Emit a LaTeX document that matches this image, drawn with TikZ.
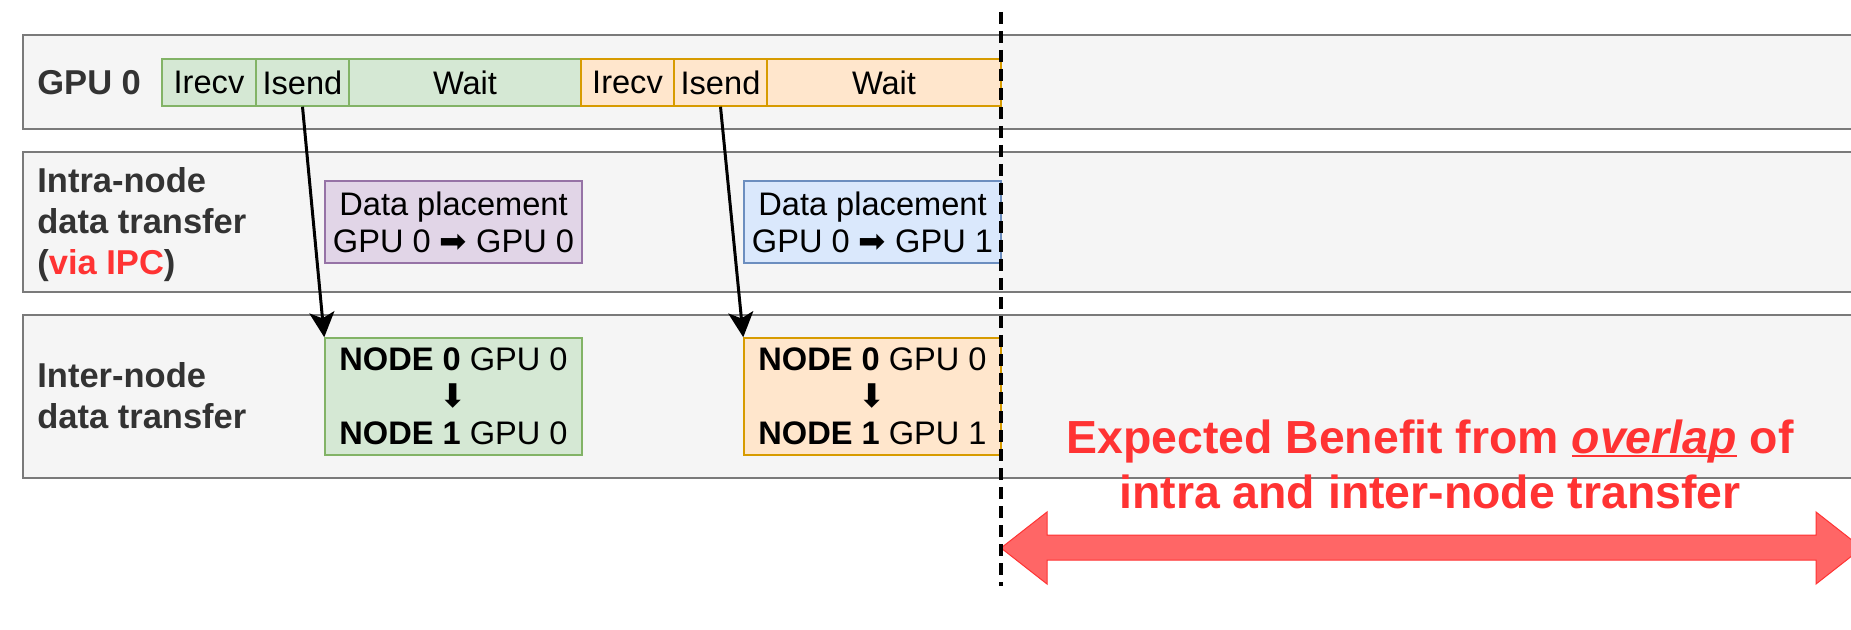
\documentclass[tikz,border=0pt]{standalone}
\usepackage{fontspec}
\setmainfont{Liberation Sans}
\newfontfamily\symf{DejaVu Sans}
\usetikzlibrary{arrows.meta}
\definecolor{lanefill}{HTML}{F5F5F5}
\definecolor{lanedraw}{HTML}{7A7A7A}
\definecolor{labeltext}{HTML}{333333}
\definecolor{gfill}{HTML}{D5E8D4}\definecolor{gdraw}{HTML}{82B366}
\definecolor{ofill}{HTML}{FFE6CC}\definecolor{odraw}{HTML}{D79B00}
\definecolor{pfill}{HTML}{E1D5E7}\definecolor{pdraw}{HTML}{9673A6}
\definecolor{bfill}{HTML}{DAE8FC}\definecolor{bdraw}{HTML}{6C8EBF}
\definecolor{redtext}{HTML}{FF3333}
\definecolor{redfill}{HTML}{FF6666}
\newsavebox\ulbox
\newcommand\ulword[1]{\sbox\ulbox{#1}\rlap{\rule[-0.09em]{\wd\ulbox}{0.05em}}\usebox\ulbox}
\begin{document}
\begin{tikzpicture}[x=0.5pt,y=-0.5pt,
  lane/.style={draw=lanedraw, fill=lanefill, line width=1.1pt, inner sep=0pt, minimum width=923.5pt},
  lanelabel/.style={text=labeltext, font=\fontsize{17.25}{20.5}\selectfont\bfseries, align=left, inner sep=0pt},
  act/.style={inner sep=0pt, line width=0.75pt, font=\fontsize{16.3}{18.5}\selectfont, align=center},
  actg/.style={act, draw=gdraw, fill=gfill},
  acto/.style={act, draw=odraw, fill=ofill},
  actp/.style={act, draw=pdraw, fill=pfill},
  actb/.style={act, draw=bdraw, fill=bfill},
  rowa/.style={minimum height=23.5pt},
  rowb/.style={minimum height=41pt, minimum width=128.5pt},
  rowc/.style={minimum height=58.5pt, minimum width=128.5pt},
  conn/.style={line width=1.5pt, -{Stealth[length=12.5pt,width=12.5pt,inset=3pt]}},
  benefitarrow/.style={fill=redfill, draw=redtext, line width=0.5pt},
  divider/.style={line width=1.7pt, dash pattern=on 6pt off 3.5pt}
]
\clip (0,0) rectangle (1851,630);
\fill[white] (0,0) rectangle (1851,630);

% lanes
\node[lane, minimum height=47pt] (lane1) at (946.5,82) {};
\node[lane, minimum height=70pt] (lane2) at (946.5,222) {};
\node[lane, minimum height=81.5pt] (lane3) at (946.5,396.5) {};

\node[lanelabel, anchor=base west] (lbl1) at (37,95) {GPU 0};
\node[lanelabel, anchor=west] (lbl2) at (37,225) {Intra-node\\data transfer\\(\textcolor{redtext}{via IPC})};
\node[lanelabel, anchor=west] (lbl3) at (37,395.5) {Inter-node\\data transfer};

% GPU 0 activities
\node[actg, rowa, minimum width=47pt] (irecvA) at (209,82.5) {Irecv};
\node[actg, rowa, minimum width=46.5pt] (isendA) at (302.5,82.5) {Isend};
\node[actg, rowa, minimum width=116pt] (waitA) at (465,82.5) {Wait};
\node[acto, rowa, minimum width=46.5pt] (irecvB) at (627.5,82.5) {Irecv};
\node[acto, rowa, minimum width=46.5pt] (isendB) at (720.5,82.5) {Isend};
\node[acto, rowa, minimum width=117pt] (waitB) at (884,82.5) {Wait};

% intra-node
\node[actp, rowb] (placeA) at (453.5,222) {Data placement\\GPU 0 {\symf ➡} GPU 0};
\node[actb, rowb] (placeB) at (872.5,222) {Data placement\\GPU 0 {\symf ➡} GPU 1};

% inter-node
\node[actg, rowc] (interA) at (453.5,396.5) {\textbf{NODE 0} GPU 0\\{\symf ⬇}\\\textbf{NODE 1} GPU 0};
\node[acto, rowc] (interB) at (872.5,396.5) {\textbf{NODE 0} GPU 0\\{\symf ⬇}\\\textbf{NODE 1} GPU 1};

% connectors
\draw[conn] (isendA.south) -- (interA.north west);
\draw[conn] (isendB.south) -- (interB.north west);

% benefit
\node[font=\fontsize{23.2}{27.5}\selectfont\bfseries, text=redtext, align=center, inner sep=0pt] (benefit) at (1430,464)
  {Expected Benefit from \ulword{\textit{overlap}} of\\intra and inter-node transfer};
\path[benefitarrow] (1001,548) -- (1047,512) -- (1047,535) -- (1816,535) -- (1816,512) -- (1862,548)
  -- (1816,584) -- (1816,560) -- (1047,560) -- (1047,584) -- cycle;

% divider
\coordinate (dtop) at (1001,12);
\coordinate (dbot) at (1001,586);
\draw[divider] (dtop) -- (dbot);
\end{tikzpicture}
\end{document}
